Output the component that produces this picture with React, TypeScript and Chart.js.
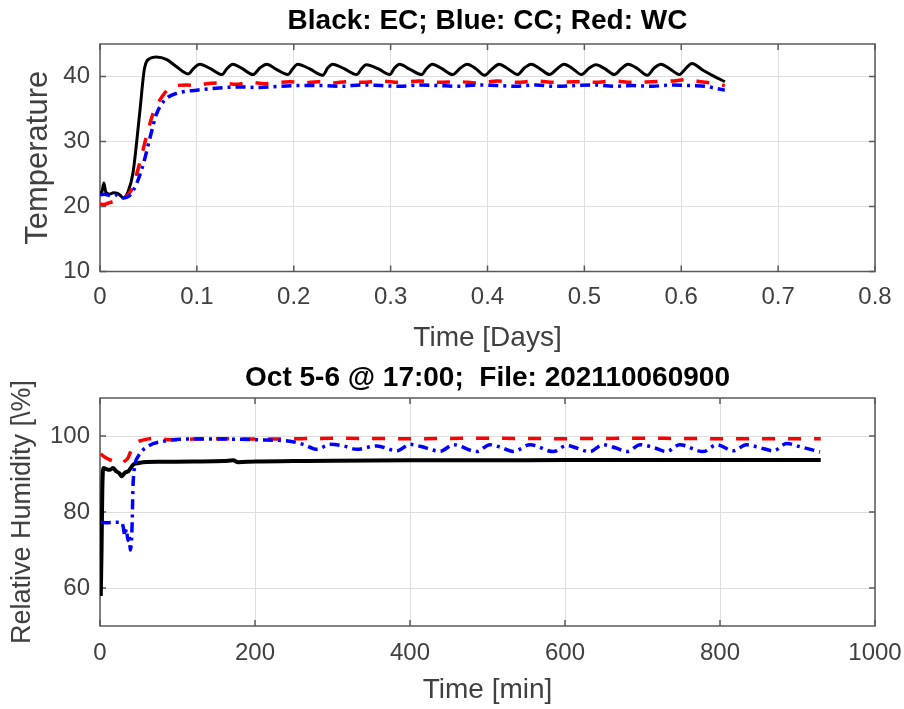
import React, { useEffect, useRef } from 'react';
import { Chart, registerables } from 'chart.js';

Chart.register(...registerables);

// ---------- Top panel: Temperature vs Time [Days] ----------
const ecDays = [0.000, 0.002, 0.004, 0.006, 0.010, 0.014, 0.018, 0.021, 0.024, 0.029, 0.034, 0.041, 0.046, 0.052, 0.058, 0.069, 0.079, 0.091, 0.097, 0.103, 0.114, 0.126, 0.131, 0.137, 0.147, 0.158, 0.165, 0.172, 0.182, 0.194, 0.199, 0.204, 0.216, 0.230, 0.235, 0.240, 0.252, 0.265, 0.270, 0.275, 0.287, 0.299, 0.304, 0.309, 0.320, 0.332, 0.337, 0.343, 0.353, 0.364, 0.372, 0.379, 0.388, 0.397, 0.405, 0.412, 0.421, 0.431, 0.438, 0.445, 0.455, 0.464, 0.472, 0.479, 0.488, 0.497, 0.505, 0.512, 0.521, 0.531, 0.538, 0.545, 0.555, 0.565, 0.572, 0.579, 0.588, 0.598, 0.605, 0.611, 0.622, 0.633, 0.645];
const ecTemp = [22.1, 22.3, 23.6, 22.2, 21.9, 22.1, 22.0, 21.7, 21.3, 22.3, 25.1, 34.4, 41.3, 42.8, 43.0, 42.6, 41.5, 40.4, 41.3, 41.9, 41.2, 40.3, 41.2, 41.9, 41.2, 40.3, 41.3, 41.9, 41.1, 40.3, 41.2, 41.9, 41.2, 40.2, 41.3, 41.9, 41.2, 40.3, 41.2, 41.8, 41.2, 40.3, 41.3, 41.9, 41.1, 40.3, 41.2, 41.9, 41.2, 40.3, 41.3, 41.9, 41.2, 40.2, 41.2, 41.9, 41.2, 40.3, 41.3, 41.9, 41.1, 40.3, 41.2, 41.9, 41.2, 40.3, 41.3, 41.8, 41.2, 40.3, 41.2, 41.9, 41.2, 40.2, 41.3, 41.9, 41.2, 40.3, 41.3, 42.0, 41.0, 40.1, 39.2];

const wcDays = [0.000, 0.004, 0.010, 0.016, 0.020, 0.024, 0.030, 0.034, 0.041, 0.048, 0.055, 0.064, 0.072, 0.089, 0.100, 0.110, 0.127, 0.140, 0.155, 0.170, 0.185, 0.196, 0.210, 0.225, 0.240, 0.255, 0.270, 0.290, 0.310, 0.330, 0.350, 0.370, 0.390, 0.410, 0.430, 0.450, 0.470, 0.490, 0.510, 0.530, 0.550, 0.570, 0.590, 0.605, 0.620, 0.635, 0.645];
const wcTemp = [20.4, 20.3, 20.6, 20.8, 20.7, 21.2, 22.0, 23.1, 26.7, 30.8, 34.4, 36.9, 38.2, 38.7, 38.6, 38.9, 39.0, 38.8, 39.1, 38.9, 39.1, 39.2, 39.0, 39.2, 39.0, 39.2, 39.1, 39.3, 39.1, 39.3, 39.1, 39.2, 39.0, 39.3, 39.1, 39.3, 39.1, 39.2, 39.1, 39.3, 39.1, 39.2, 39.3, 39.5, 39.2, 38.9, 38.6];

const ccDays = [0.000, 0.005, 0.010, 0.016, 0.020, 0.024, 0.030, 0.038, 0.045, 0.052, 0.058, 0.067, 0.079, 0.100, 0.120, 0.144, 0.165, 0.185, 0.205, 0.230, 0.250, 0.270, 0.290, 0.310, 0.330, 0.350, 0.370, 0.390, 0.410, 0.430, 0.450, 0.470, 0.490, 0.510, 0.530, 0.550, 0.570, 0.590, 0.610, 0.625, 0.635, 0.645];
const ccTemp = [21.8, 21.9, 21.7, 21.8, 21.6, 21.3, 21.6, 23.6, 26.7, 30.8, 34.1, 36.4, 37.4, 37.9, 38.2, 38.4, 38.3, 38.5, 38.6, 38.6, 38.5, 38.7, 38.6, 38.5, 38.7, 38.6, 38.5, 38.7, 38.6, 38.5, 38.7, 38.5, 38.6, 38.7, 38.5, 38.6, 38.5, 38.7, 38.6, 38.5, 38.2, 37.9];

const dayTicks = [0, 0.1, 0.2, 0.3, 0.4, 0.5, 0.6, 0.7, 0.8];
const dayTickLabels = ['0', '0.1', '0.2', '0.3', '0.4', '0.5', '0.6', '0.7', '0.8'];
const tempTicks = [10, 20, 30, 40];
const tempTickLabels = ['10', '20', '30', '40'];

// ---------- Bottom panel: Relative Humidity vs Time [min] ----------
const ecMin = [1, 2, 3, 4.3, 8, 13, 17, 21, 25, 28, 32, 37, 43, 50, 56, 80, 120, 160, 172, 178, 200, 250, 300, 400, 500, 600, 700, 800, 930];
const ecRH = [57.9, 70, 86, 91.6, 91.3, 91.1, 91.6, 90.7, 90.2, 89.4, 90.3, 90.8, 92.5, 92.9, 93.1, 93.2, 93.3, 93.4, 93.6, 93.1, 93.3, 93.4, 93.5, 93.6, 93.6, 93.7, 93.7, 93.7, 93.7];

const wcMin = [1, 5, 13, 20, 28, 32, 36, 41, 47, 55, 69, 94, 120, 160, 200, 260, 300, 400, 500, 600, 700, 800, 930];
const wcRH = [95.3, 94.6, 93.7, 93.2, 92.7, 93.4, 94.2, 96.6, 98.2, 98.9, 99.4, 99.0, 99.2, 99.3, 99.2, 99.3, 99.4, 99.3, 99.4, 99.3, 99.4, 99.3, 99.3];

const ccMin = [1, 10, 20, 28, 30, 32, 34, 36, 38, 39, 41, 43, 49.5, 62, 82, 116, 150, 202, 245, 262, 280, 297, 314, 331, 357, 383, 400, 413, 439, 456, 486, 503, 520, 533, 555, 585, 602, 632, 649, 665, 680, 697, 715, 731, 748, 778, 796, 817, 834, 852, 869, 886, 903, 929];
const ccRH = [77.3, 77.2, 77.3, 77.3, 76.0, 73.8, 75.5, 72.5, 74.0, 70.0, 74.0, 88.6, 94.7, 97.3, 98.6, 99.2, 99.2, 99.0, 98.6, 97.8, 96.5, 97.8, 97.4, 96.5, 97.4, 96.1, 97.8, 97.3, 96.0, 97.7, 95.9, 97.7, 96.8, 95.9, 97.7, 95.9, 97.5, 95.9, 97.7, 96.9, 95.9, 97.7, 96.9, 95.9, 97.7, 95.9, 97.7, 96.1, 97.7, 96.9, 96.1, 98.0, 97.2, 95.8];

const minTicks = [0, 200, 400, 600, 800, 1000];
const minTickLabels = ['0', '200', '400', '600', '800', '1000'];
const rhTicks = [60, 80, 100];
const rhTickLabels = ['60', '80', '100'];

const FONT = "'Liberation Sans', Arial, Helvetica, sans-serif";
const TICK_COLOR = '#404040';
const GRID_COLOR = '#dedede';
const BOX_COLOR = '#5a5a5a';

const toPts = (xs: number[], ys: number[]) => xs.map((x, i) => ({ x, y: ys[i] }));

const boxPlugin = {
  id: 'matlabBox',
  beforeDatasetsDraw(chart: any) {
    const { ctx, chartArea: a, scales } = chart;
    ctx.save();
    ctx.strokeStyle = BOX_COLOR;
    ctx.lineWidth = 1.5;
    ctx.strokeRect(a.left, a.top, a.right - a.left, a.bottom - a.top);
    const t = 6;
    ctx.beginPath();
    scales.x.ticks.forEach((tk: any) => {
      const px = scales.x.getPixelForValue(tk.value);
      ctx.moveTo(px, a.bottom);
      ctx.lineTo(px, a.bottom - t);
      ctx.moveTo(px, a.top);
      ctx.lineTo(px, a.top + t);
    });
    scales.y.ticks.forEach((tk: any) => {
      const py = scales.y.getPixelForValue(tk.value);
      ctx.moveTo(a.left, py);
      ctx.lineTo(a.left + t, py);
      ctx.moveTo(a.right, py);
      ctx.lineTo(a.right - t, py);
    });
    ctx.stroke();
    ctx.restore();
  },
};

interface PanelOpts {
  title: string;
  titlePad: { top: number; bottom: number };
  xLabel: string;
  yLabel: string;
  yLabelSize: number;
  yLabelPad: number;
  xMin: number;
  xMax: number;
  yMin: number;
  yMax: number;
  xTicks: number[];
  xTickLabels: string[];
  yTicks: number[];
  yTickLabels: string[];
  xAxisHeight: number;
  xTickPad: number;
  xTitlePad: number;
  blackWidth: number;
  datasets: { cc: { x: number; y: number }[]; wc: { x: number; y: number }[]; ec: { x: number; y: number }[] };
}

function makeConfig(o: PanelOpts): any {
  return {
    type: 'line',
    data: {
      datasets: [
        {
          label: 'CC',
          data: o.datasets.cc,
          borderColor: '#0000ff',
          borderWidth: 3.5,
          borderDash: [10, 5, 3, 5],
          pointRadius: 0,
          cubicInterpolationMode: 'monotone',
          fill: false,
        },
        {
          label: 'WC',
          data: o.datasets.wc,
          borderColor: '#ff0000',
          borderWidth: 3.5,
          borderDash: [13, 13],
          pointRadius: 0,
          cubicInterpolationMode: 'monotone',
          fill: false,
        },
        {
          label: 'EC',
          data: o.datasets.ec,
          borderColor: '#000000',
          borderWidth: o.blackWidth,
          pointRadius: 0,
          cubicInterpolationMode: 'monotone',
          fill: false,
        },
      ],
    },
    options: {
      responsive: false,
      animation: false,
      devicePixelRatio: 1,
      layout: { padding: { left: 0, right: 29, top: 0, bottom: 0 } },
      plugins: {
        legend: { display: false },
        tooltip: { enabled: false },
        title: {
          display: true,
          text: o.title,
          fullSize: false,
          color: '#000000',
          font: { family: FONT, size: 28, weight: 'bold', lineHeight: 1.2 },
          padding: o.titlePad,
        },
      },
      scales: {
        x: {
          type: 'linear',
          min: o.xMin,
          max: o.xMax,
          afterBuildTicks: (s: any) => {
            s.ticks = o.xTicks.map((v) => ({ value: v }));
          },
          afterFit: (s: any) => {
            s.height = o.xAxisHeight;
            s.paddingLeft = 0;
            s.paddingRight = 0;
          },
          ticks: {
            autoSkip: false,
            maxRotation: 0,
            padding: o.xTickPad,
            color: TICK_COLOR,
            font: { family: FONT, size: 24, lineHeight: 1.2 },
            callback: (_v: any, i: number) => o.xTickLabels[i],
          },
          grid: { color: GRID_COLOR, lineWidth: 1, drawTicks: false },
          border: { display: false },
          title: {
            display: true,
            text: o.xLabel,
            color: TICK_COLOR,
            font: { family: FONT, size: 28, lineHeight: 1.2 },
            padding: { top: 0, bottom: o.xTitlePad },
          },
        },
        y: {
          type: 'linear',
          min: o.yMin,
          max: o.yMax,
          afterBuildTicks: (s: any) => {
            s.ticks = o.yTicks.map((v) => ({ value: v }));
          },
          afterFit: (s: any) => {
            s.width = 100;
            s.paddingTop = 0;
            s.paddingBottom = 0;
          },
          ticks: {
            autoSkip: false,
            padding: 10,
            color: TICK_COLOR,
            font: { family: FONT, size: 24, lineHeight: 1.2 },
            callback: (_v: any, i: number) => o.yTickLabels[i],
          },
          grid: { color: GRID_COLOR, lineWidth: 1, drawTicks: false },
          border: { display: false },
          title: {
            display: true,
            text: o.yLabel,
            color: TICK_COLOR,
            font: { family: FONT, size: o.yLabelSize, lineHeight: 1.2 },
            padding: { top: o.yLabelPad, bottom: 0 },
          },
        },
      },
    },
    plugins: [boxPlugin],
  };
}

export default function App() {
  const topRef = useRef<HTMLCanvasElement | null>(null);
  const botRef = useRef<HTMLCanvasElement | null>(null);

  useEffect(() => {
    if (!topRef.current || !botRef.current) return;
    const top = new Chart(
      topRef.current,
      makeConfig({
        title: 'Black: EC; Blue: CC; Red: WC',
        titlePad: { top: 4.2, bottom: 6.2 },
        xLabel: 'Time [Days]',
        yLabel: 'Temperature',
        yLabelSize: 31,
        yLabelPad: 19.9,
        xMin: 0,
        xMax: 0.8,
        yMin: 10,
        yMax: 45,
        xTicks: dayTicks,
        xTickLabels: dayTickLabels,
        yTicks: tempTicks,
        yTickLabels: tempTickLabels,
        xAxisHeight: 86.5,
        xTickPad: 11.6,
        xTitlePad: 3.2,
        blackWidth: 3,
        datasets: {
          cc: toPts(ccDays, ccTemp),
          wc: toPts(wcDays, wcTemp),
          ec: toPts(ecDays, ecTemp),
        },
      })
    );
    const bot = new Chart(
      botRef.current,
      makeConfig({
        title: 'Oct 5-6 @ 17:00;  File: 202110060900',
        titlePad: { top: 3.2, bottom: 3.2 },
        xLabel: 'Time [min]',
        yLabel: 'Relative Humidity [\\%]',
        yLabelSize: 27,
        yLabelPad: 6.8,
        xMin: 0,
        xMax: 1000,
        yMin: 50,
        yMax: 110,
        xTicks: minTicks,
        xTickLabels: minTickLabels,
        yTicks: rhTicks,
        yTickLabels: rhTickLabels,
        xAxisHeight: 83,
        xTickPad: 13.1,
        xTitlePad: 2.2,
        blackWidth: 4,
        datasets: {
          cc: toPts(ccMin, ccRH),
          wc: toPts(wcMin, wcRH),
          ec: toPts(ecMin, ecRH),
        },
      })
    );
    return () => {
      top.destroy();
      bot.destroy();
    };
  }, []);

  return (
    <div style={{ position: 'absolute', left: 0, top: 0, width: 904, height: 709, background: '#ffffff' }}>
      <canvas ref={topRef} width={904} height={358} style={{ position: 'absolute', left: 0, top: 0 }} />
      <canvas ref={botRef} width={904} height={351} style={{ position: 'absolute', left: 0, top: 358 }} />
    </div>
  );
}
